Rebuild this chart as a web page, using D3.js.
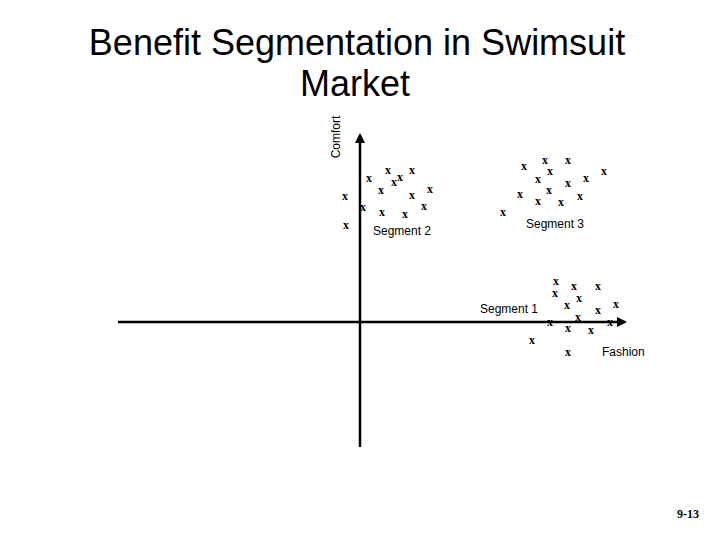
<!DOCTYPE html>
<html>
<head>
<meta charset="utf-8">
<script src="https://cdn.jsdelivr.net/npm/d3@7"></script>
<style>
  body { margin: 0; background: #fff; }
  svg { display: block; }
</style>
</head>
<body>
<div id="chart"></div>
<script>
// Positions in chart units (fashion, comfort), origin where the axes cross
const segment1 = [
    [19.6, 4.0], [21.4, 3.5], [23.8, 3.5], [19.5, 2.8], [21.9, 2.3],
    [20.7, 1.6], [25.6, 1.7], [23.8, 1.1], [21.8, 0.4], [19.0, -0.1],
    [25.0, -0.1], [20.8, -0.7], [23.1, -0.9], [17.2, -1.9], [20.8, -3.1]
];
const segment2 = [
    [2.8, 15.1], [5.2, 15.1], [0.9, 14.3], [4.0, 14.4], [3.4, 13.9],
    [2.1, 13.1], [7.0, 13.2], [5.2, 12.6], [-1.5, 12.5], [0.3, 11.4],
    [6.4, 11.5], [2.2, 10.9], [4.5, 10.7], [-1.4, 9.6]
];
const segment3 = [
    [18.5, 16.1], [20.8, 16.1], [16.4, 15.5], [19.0, 15.0], [24.4, 15.0],
    [17.8, 14.2], [22.6, 14.3], [20.8, 13.8], [18.9, 13.1], [16.0, 12.7],
    [22.0, 12.5], [17.8, 12.0], [20.1, 11.9], [14.3, 10.9]
];
const segmentNames = ['Segment 1', 'Segment 2', 'Segment 3'];
const segmentLabelAt = [[14.9, 0.9], [4.2, 8.7], [19.5, 9.4]];
const axisNames = ['Fashion', 'Comfort'];

const W = 720, H = 540;

const svg = d3.select('#chart').append('svg')
    .attr('width', W)
    .attr('height', H);

// 10 px per unit
const x = d3.scaleLinear().domain([0, 25]).range([360, 610]);
const y = d3.scaleLinear().domain([0, 10]).range([322, 222]);

// Title
svg.append('text')
    .attr('x', 357)
    .attr('y', 55)
    .attr('text-anchor', 'middle')
    .style('font-family', 'Liberation Sans, Arial, sans-serif')
    .style('font-size', '36px')
    .text('Benefit Segmentation in Swimsuit');
svg.append('text')
    .attr('x', 355)
    .attr('y', 96)
    .attr('text-anchor', 'middle')
    .style('font-family', 'Liberation Sans, Arial, sans-serif')
    .style('font-size', '36px')
    .text('Market');

// Markers
const all = [].concat(segment1, segment2, segment3);
svg.selectAll('.mark')
    .data(all)
    .enter().append('text')
    .attr('class', 'mark')
    .attr('x', d => x(d[0]))
    .attr('y', d => y(d[1]))
    .attr('dy', '0.24em')
    .attr('text-anchor', 'middle')
    .style('font-family', 'Liberation Serif, Times New Roman, serif')
    .style('font-weight', 'bold')
    .style('font-size', '12px')
    .text('x');

// Axes with arrowheads
const defs = svg.append('defs');
defs.append('marker')
    .attr('id', 'arrow')
    .attr('viewBox', '0 0 10 10')
    .attr('refX', 8)
    .attr('refY', 5)
    .attr('markerWidth', 4)
    .attr('markerHeight', 4)
    .attr('orient', 'auto')
    .append('path')
    .attr('d', 'M0,0 L10,5 L0,10 Z')
    .attr('fill', '#000');

svg.append('line')
    .attr('x1', x(-24.2)).attr('x2', x(26.5))
    .attr('y1', y(0)).attr('y2', y(0))
    .attr('stroke', '#000')
    .attr('stroke-width', 2.5)
    .attr('marker-end', 'url(#arrow)');

svg.append('line')
    .attr('x1', x(0)).attr('x2', x(0))
    .attr('y1', y(-12.5)).attr('y2', y(18.7))
    .attr('stroke', '#000')
    .attr('stroke-width', 2.5)
    .attr('marker-end', 'url(#arrow)');

// Segment labels
svg.selectAll('.seg')
    .data(segmentNames)
    .enter().append('text')
    .attr('class', 'seg')
    .attr('x', (d, i) => x(segmentLabelAt[i][0]))
    .attr('y', (d, i) => y(segmentLabelAt[i][1]))
    .attr('text-anchor', 'middle')
    .style('font-family', 'Liberation Sans, Arial, sans-serif')
    .style('font-size', '12px')
    .text(d => d);

// Axis labels
svg.append('text')
    .attr('x', x(24.2))
    .attr('y', y(-3.4))
    .style('font-family', 'Liberation Sans, Arial, sans-serif')
    .style('font-size', '12px')
    .text(axisNames[0]);

svg.append('text')
    .attr('transform', `translate(${x(-2.0)},${y(18.5)}) rotate(-90)`)
    .attr('text-anchor', 'middle')
    .style('font-family', 'Liberation Sans, Arial, sans-serif')
    .style('font-size', '12px')
    .text(axisNames[1]);

// Slide number
svg.append('text')
    .attr('x', 688)
    .attr('y', 518)
    .attr('text-anchor', 'middle')
    .style('font-family', 'Liberation Serif, Times New Roman, serif')
    .style('font-weight', 'bold')
    .style('font-size', '12px')
    .text('9-13');
</script>
</body>
</html>
